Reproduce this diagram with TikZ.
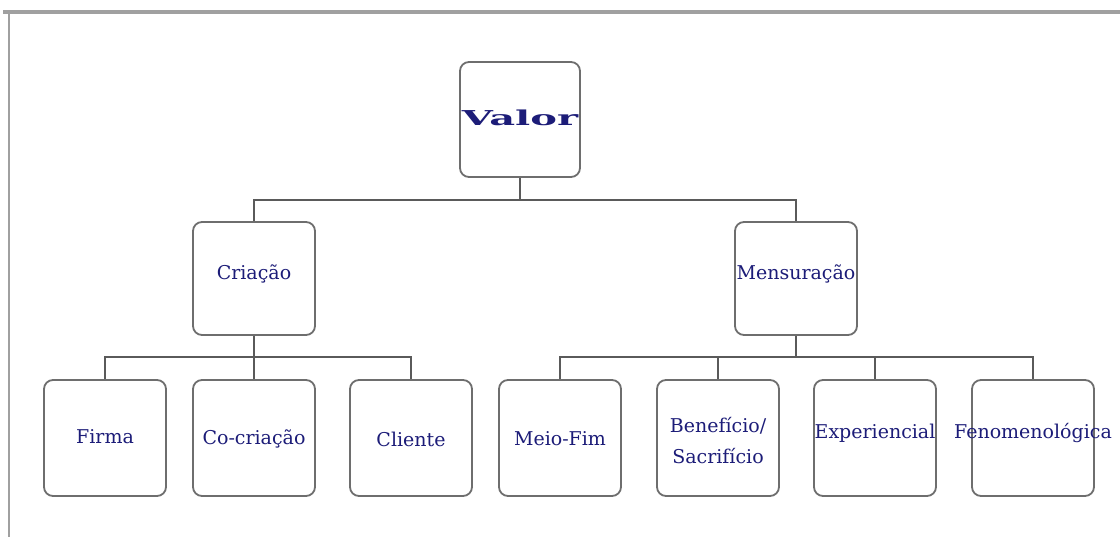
\documentclass[tikz,border=0pt]{standalone}
\usepackage{fontspec}
\setmainfont{DejaVu Serif}
\definecolor{boxgray}{HTML}{6E6E6E}
\definecolor{linegray}{HTML}{5A5A5A}
\definecolor{framegray}{HTML}{A0A0A0}
\definecolor{navy}{HTML}{1C1C78}
\newcommand{\ctext}[2][0pt]{\makebox[0pt][c]{\raisebox{#1}[\height][\depth]{#2}}}
\begin{document}
\begin{tikzpicture}[x=1pt,y=-1pt,
  box/.style={draw=boxgray, fill=white, line width=1.8pt, rounded corners=9pt,
    minimum width=122pt, minimum height=116pt, inner sep=0pt,
    font=\fontsize{19}{31}\selectfont, text=navy, align=center},
  conn/.style={draw=linegray, line width=1.4pt},
  frame/.style={draw=framegray}]
\useasboundingbox (0,0) rectangle (1120,537);
\draw[frame, line width=4.5pt] (3,12) -- (1120,12);
\draw[frame, line width=2.5pt] (9,12) -- (9,537);

\node[box, minimum width=120pt, minimum height=115pt] (valor) at (520,119.5)
  {\ctext[2pt]{\scalebox{1.95}[1.0]{\fontsize{20.5}{22}\selectfont\bfseries Valor}}};
\node[box, minimum height=113pt] (criacao) at (254,278.5) {\ctext[5pt]{Criação}};
\node[box, minimum height=113pt] (mens) at (796,278.5) {\ctext[5pt]{Mensuração}};

\node[box] (firma) at (105,438) {\ctext[1pt]{Firma}};
\node[box] (cocri) at (254,438) {\ctext[-1pt]{Co-criação}};
\node[box] (cliente) at (411,438) {\ctext[-1pt]{Cliente}};
\node[box] (meio) at (560,438) {\ctext[-1pt]{Meio-Fim}};
\node[box] (benef) at (718,438) {\ctext[-3pt]{Benefício/}\\\ctext[-3pt]{Sacrifício}};
\node[box] (exper) at (875,438) {\ctext[5pt]{Experiencial}};
\node[box] (fenom) at (1033,438) {\ctext[5pt]{Fenomenológica}};

\coordinate (j1) at (520,200);
\coordinate (j2) at (254,357);
\coordinate (j3) at (796,357);

\draw[conn] (valor.south) -- (j1);
\draw[conn] (criacao.north) |- (j1) -| (mens.north);
\draw[conn] (criacao.south) -- (j2);
\draw[conn] (firma.north) |- (j2) -| (cliente.north);
\draw[conn] (cocri.north) -- (j2);
\draw[conn] (mens.south) -- (j3);
\draw[conn] (meio.north) |- (j3) -| (fenom.north);
\draw[conn] (benef.north) -- (benef.north |- j3);
\draw[conn] (exper.north) -- (exper.north |- j3);
\end{tikzpicture}
\end{document}
